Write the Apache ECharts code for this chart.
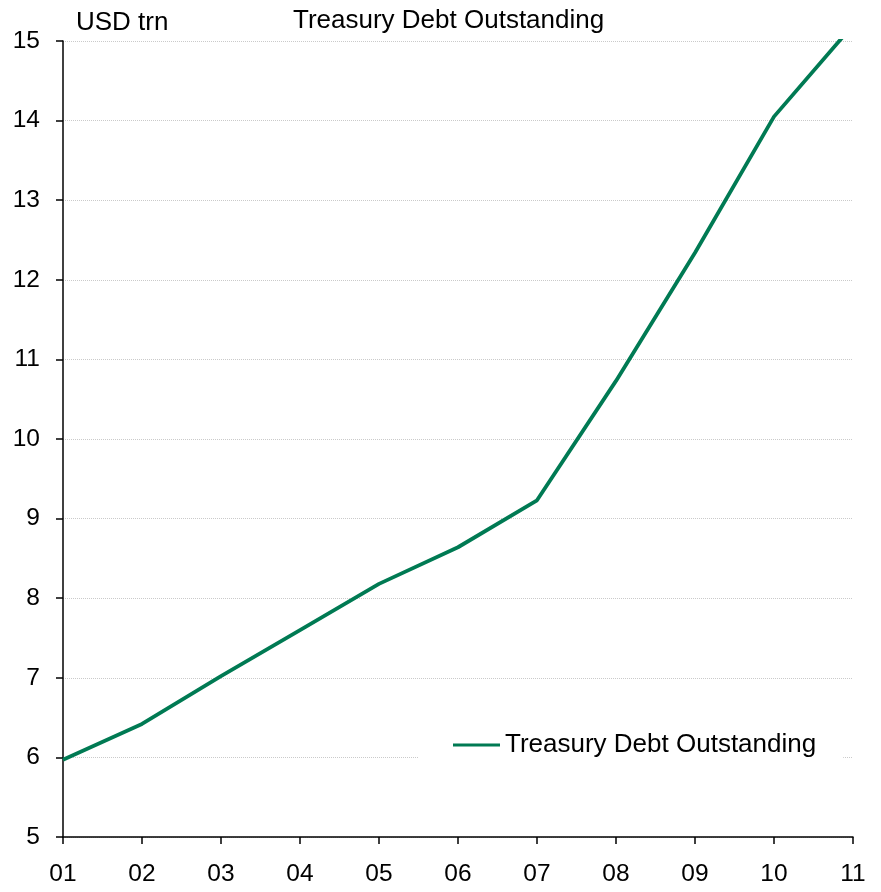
<!DOCTYPE html>
<html>
<head>
<meta charset="utf-8">
<script src="https://cdn.jsdelivr.net/npm/echarts@6/dist/echarts.min.js"></script>
<style>
  html, body { margin: 0; padding: 0; background: #fff; }
  #chart { width: 881px; height: 892px; }
</style>
</head>
<body>
<div id="chart"></div>
<script>
// Year labels (2001–2011) and year-end Treasury debt outstanding, USD trn
const years = ['01', '02', '03', '04', '05', '06', '07', '08', '09', '10', '11'];
const debtOutstanding = [5.97, 6.42, 7.02, 7.60, 8.18, 8.64, 9.23, 10.73, 12.34, 14.05, 15.2];
const yTicks = { min: 5, max: 15, interval: 1 };

const FONT = '"Liberation Sans", Arial, sans-serif';
const chart = echarts.init(document.getElementById('chart'), null, { renderer: 'canvas' });

chart.setOption({
  animation: false,
  backgroundColor: '#ffffff',
  textStyle: { fontFamily: FONT, color: '#000' },
  title: {
    text: 'Treasury Debt Outstanding',
    left: 288,
    top: 3,
    textStyle: { fontFamily: FONT, fontSize: 26, fontWeight: 'normal', color: '#000' }
  },
  grid: { left: 63, right: 28, top: 41, bottom: 55, containLabel: false },
  legend: {
    data: ['Treasury Debt Outstanding'],
    left: 418,
    top: 724,
    padding: [8, 27, 8, 35],
    backgroundColor: '#ffffff',
    icon: 'rect',
    itemWidth: 47,
    itemHeight: 3,
    itemGap: 0,
    textStyle: { fontFamily: FONT, fontSize: 26, color: '#000' }
  },
  graphic: [{
    type: 'text',
    left: 76,
    top: 10,
    style: { text: 'USD trn', font: '26px ' + FONT, fill: '#000' }
  }],
  xAxis: {
    type: 'category',
    data: years,
    boundaryGap: false,
    axisLine: { lineStyle: { color: '#000', width: 1.5 } },
    axisTick: { show: true, length: 7, lineStyle: { color: '#000', width: 1.5 } },
    axisLabel: { fontFamily: FONT, fontSize: 24.5, color: '#000', margin: 25 },
    splitLine: { show: false }
  },
  yAxis: {
    type: 'value',
    min: yTicks.min,
    max: yTicks.max,
    interval: yTicks.interval,
    axisLine: { show: true, lineStyle: { color: '#000', width: 1.5 } },
    axisTick: { show: true, length: 7, lineStyle: { color: '#000', width: 1.5 } },
    axisLabel: { fontFamily: FONT, fontSize: 24.5, color: '#000', margin: 23 },
    splitLine: { show: true, lineStyle: { color: '#cacaca', width: 1, type: [1, 1] } }
  },
  series: [{
    name: 'Treasury Debt Outstanding',
    type: 'line',
    data: debtOutstanding,
    symbol: 'none',
    clip: true,
    lineStyle: { color: '#007a53', width: 3.8 },
    itemStyle: { color: '#007a53' }
  }]
});
</script>
</body>
</html>
